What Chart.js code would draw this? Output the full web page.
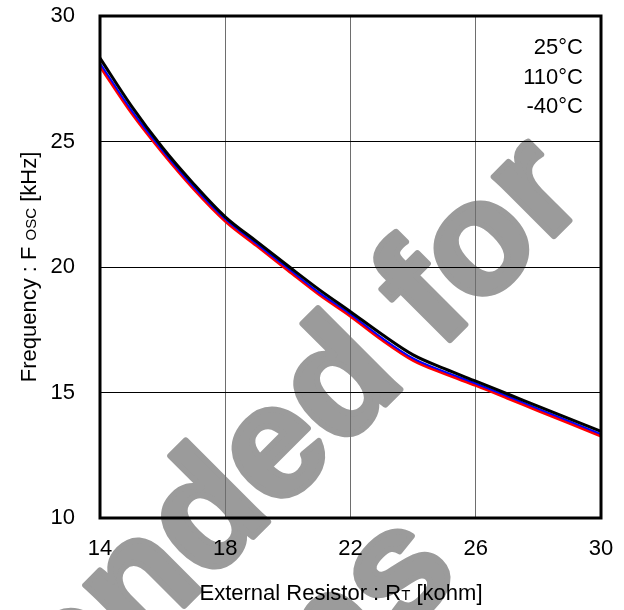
<!DOCTYPE html>
<html>
<head>
<meta charset="utf-8">
<script src="https://cdn.jsdelivr.net/npm/chart.js@4.4.1/dist/chart.umd.min.js"></script>
<style>
  body { margin: 0; background: #fff; }
</style>
</head>
<body>
<canvas id="oscChart" width="624" height="610"></canvas>
<script>
// Oscillator frequency vs external resistor, three temperatures

const resistance = [14, 15, 16, 17, 18, 19, 20, 21, 22, 23, 24, 25, 26, 27, 28, 29, 30];
const freq25 = [28.32, 26.42, 24.75, 23.30, 22.00, 21.02, 20.05, 19.10, 18.22, 17.32, 16.50, 15.95, 15.45, 14.95, 14.45, 13.95, 13.45];
const freq110 = [28.12, 26.25, 24.64, 23.18, 21.91, 20.93, 19.95, 18.98, 18.12, 17.18, 16.36, 15.83, 15.36, 14.86, 14.35, 13.85, 13.34];
const freqM40 = [28.00, 26.15, 24.55, 23.10, 21.83, 20.85, 19.87, 18.90, 18.04, 17.10, 16.28, 15.75, 15.28, 14.78, 14.27, 13.77, 13.26];
const xTicks = [14, 18, 22, 26, 30];
const yTicks = [10, 15, 20, 25, 30];
const tempLabels = ['25°C', '110°C', '-40°C'];

const FONT = '"Liberation Sans", Arial, sans-serif';
Chart.defaults.font.family = FONT;
Chart.defaults.font.size = 22;
Chart.defaults.color = '#000';

function toPoints(ys) {
    return resistance.map((x, i) => ({ x: x, y: ys[i] }));
}

// draws text parts of different sizes on one baseline, centred on x
function drawMixed(ctx, parts, x, y) {
    let total = 0;
    parts.forEach(p => {
        ctx.font = p.size + 'px ' + FONT;
        p.w = ctx.measureText(p.text).width;
        total += p.w;
    });
    let cx = x - total / 2;
    ctx.textAlign = 'left';
    ctx.textBaseline = 'alphabetic';
    parts.forEach(p => {
        ctx.font = p.size + 'px ' + FONT;
        ctx.fillText(p.text, cx, y);
        cx += p.w;
    });
}

function noPad(s) {
    s.paddingTop = 0;
    s.paddingBottom = 0;
    s.paddingLeft = 0;
    s.paddingRight = 0;
}

const decorations = {
    id: 'decorations',
    beforeDraw(chart) {
        // grey watermark, under everything
        const ctx = chart.ctx;
        ctx.save();
        ctx.fillStyle = '#9b9b9b';
        ctx.strokeStyle = '#9b9b9b';
        ctx.lineWidth = 6;
        ctx.lineJoin = 'round';
        ctx.translate(590, 200);
        ctx.rotate(-Math.PI / 4);
        ctx.font = 'bold 160px ' + FONT;
        ctx.textAlign = 'right';
        ctx.textBaseline = 'alphabetic';
        ctx.fillText('Not Recommended for', 0, 0);
        ctx.strokeText('Not Recommended for', 0, 0);
        ctx.fillText('New Designs', -355, 175);
        ctx.strokeText('New Designs', -355, 175);
        ctx.restore();
    },
    afterDraw(chart) {
        const ctx = chart.ctx;
        const a = chart.chartArea;
        ctx.save();
        // frame
        ctx.strokeStyle = '#000';
        ctx.lineWidth = 3;
        ctx.strokeRect(a.left, a.top, a.right - a.left, a.bottom - a.top);

        // temperature labels
        ctx.fillStyle = '#000';
        ctx.font = '22px ' + FONT;
        ctx.textAlign = 'right';
        ctx.textBaseline = 'middle';
        tempLabels.forEach((t, i) => {
            ctx.fillText(t, 583, 48 + i * 29.5);
        });

        // axis titles
        drawMixed(ctx, [
            { text: 'External Resistor : R', size: 22 },
            { text: 'T', size: 15 },
            { text: ' [kohm]', size: 22 }
        ], 341, 600);

        ctx.translate(36, 267);
        ctx.rotate(-Math.PI / 2);
        drawMixed(ctx, [
            { text: 'Frequency : F ', size: 22 },
            { text: 'OSC', size: 15 },
            { text: ' [kHz]', size: 22 }
        ], 0, 0);
        ctx.restore();
    }
};

const osc = new Chart(document.getElementById('oscChart'), {
    type: 'line',
    data: {
        datasets: [{
            label: tempLabels[0],
            data: toPoints(freq25),
            borderColor: '#000000',
            borderWidth: 3
        }, {
            label: tempLabels[1],
            data: toPoints(freq110),
            borderColor: '#0000ff',
            borderWidth: 2
        }, {
            label: tempLabels[2],
            data: toPoints(freqM40),
            borderColor: '#ff0000',
            borderWidth: 3
        }]
    },
    options: {
        responsive: false,
        animation: false,
        layout: { padding: { top: 16, right: 23, left: 0, bottom: 0 } },
        elements: {
            point: { radius: 0 },
            line: { cubicInterpolationMode: 'monotone', fill: false }
        },
        plugins: {
            legend: { display: false },
            tooltip: { enabled: false }
        },
        scales: {
            x: {
                type: 'linear',
                min: 14,
                max: 30,
                afterBuildTicks: (s) => { s.ticks = xTicks.map(v => ({ value: v })); },
                afterFit: (s) => { s.height = 92; noPad(s); },
                ticks: { padding: 18, maxRotation: 0 },
                grid: { color: '#6e6e6e', lineWidth: 1, drawTicks: false },
                border: { display: false }
            },
            y: {
                min: 10,
                max: 30,
                afterBuildTicks: (s) => { s.ticks = yTicks.map(v => ({ value: v })); },
                afterFit: (s) => { s.width = 100; noPad(s); },
                ticks: { padding: 25 },
                grid: { color: '#000', lineWidth: 1, drawTicks: false },
                border: { display: false }
            }
        }
    },
    plugins: [decorations]
});
</script>
</body>
</html>
